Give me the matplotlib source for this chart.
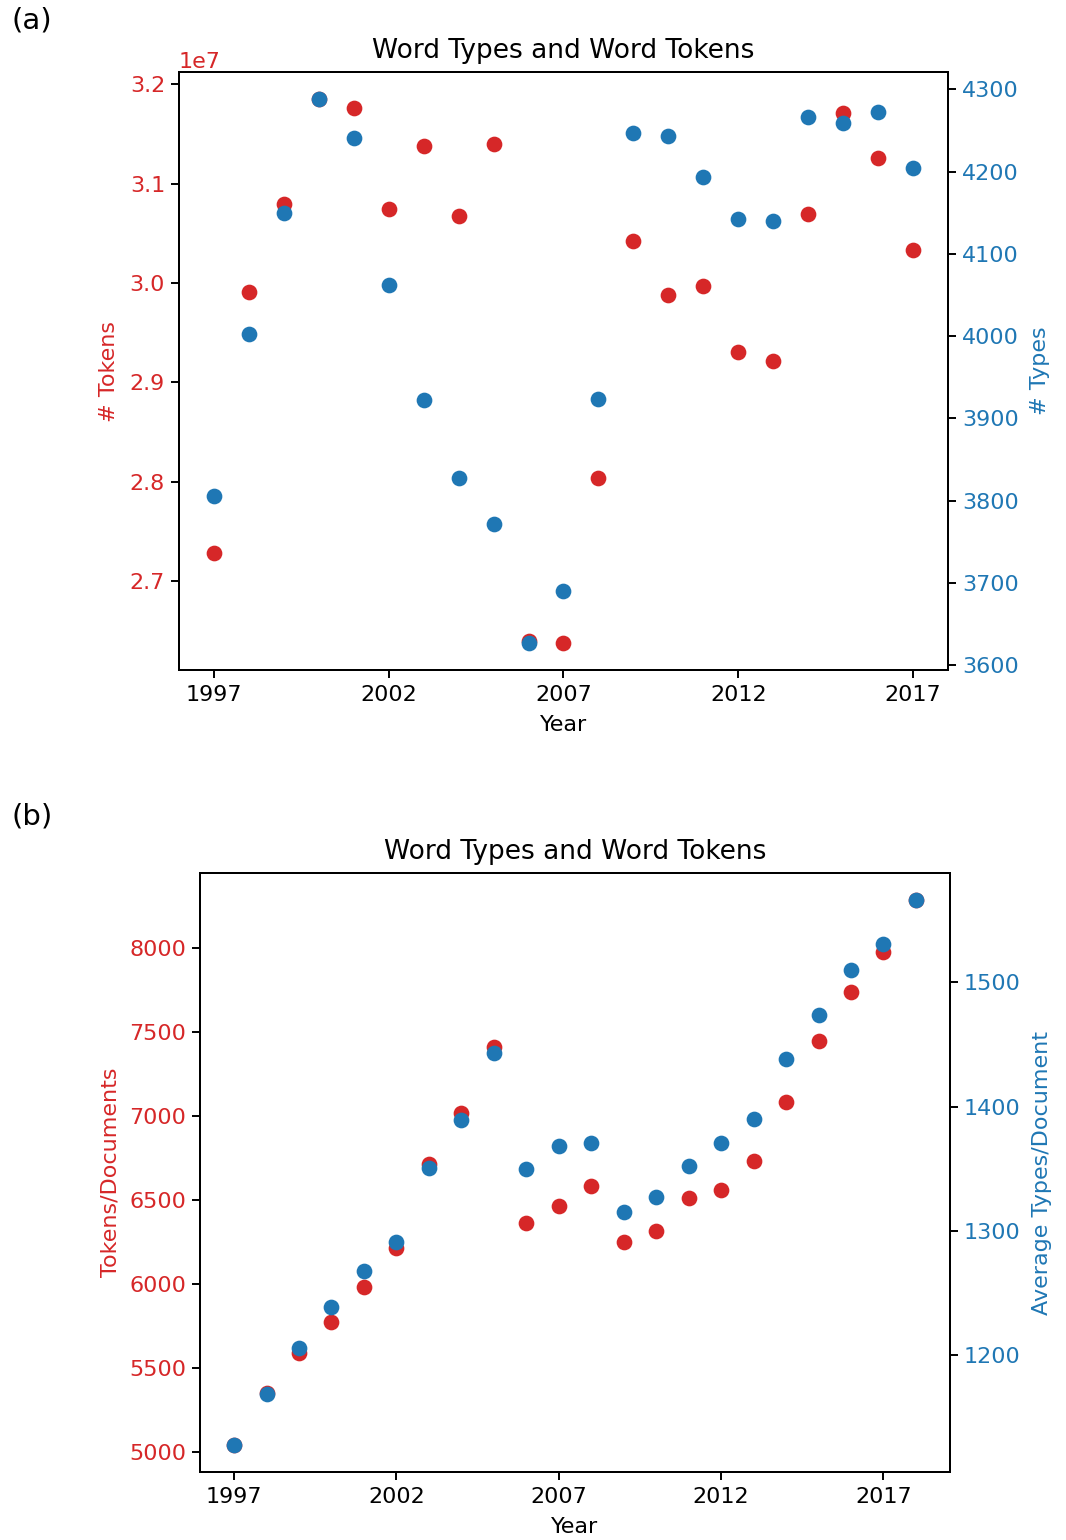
import matplotlib
matplotlib.use("Agg")
import matplotlib.pyplot as plt
import numpy as np

RED = "#d62728"
BLUE = "#1f77b4"

years_a = list(range(1997, 2018))
tokens_a = [2.728e7, 2.991e7, 3.080e7, 3.185e7, 3.176e7, 3.075e7, 3.138e7, 3.068e7,
            3.140e7, 2.640e7, 2.638e7, 2.804e7, 3.042e7, 2.988e7, 2.997e7, 2.931e7,
            2.922e7, 3.070e7, 3.171e7, 3.126e7, 3.033e7]
types_a = [3806, 4003, 4150, 4288, 4241, 4062, 3922, 3827, 3771, 3627, 3690, 3924,
           4247, 4243, 4193, 4142, 4140, 4266, 4259, 4272, 4204]

years_b = list(range(1997, 2019))
tokens_b = [5043, 5351, 5589, 5774, 5982, 6214, 6714, 7018, 7411, 6363, 6464, 6583,
            6250, 6315, 6512, 6560, 6732, 7083, 7446, 7738, 7976, 8284]
types_b = [1128, 1169, 1206, 1239, 1268, 1291, 1351, 1389, 1443, 1350, 1368, 1371,
           1315, 1327, 1352, 1371, 1390, 1438, 1474, 1510, 1531, 1566]

xticks = [1997, 2002, 2007, 2012, 2017]
title = "Word Types and Word Tokens"

FS = 16
TFS = 19
LP = 8
plt.rcParams['font.family'] = ['DejaVu Sans']
plt.rcParams['font.size'] = FS
plt.rcParams['axes.linewidth'] = 1.4
plt.rcParams['xtick.major.width'] = 1.4
plt.rcParams['ytick.major.width'] = 1.4
plt.rcParams['xtick.major.size'] = 5.5
plt.rcParams['ytick.major.size'] = 5.5
plt.rcParams['xtick.major.pad'] = 5.5
plt.rcParams['ytick.major.pad'] = 4.5

fig = plt.figure(figsize=(10.66, 15.4), dpi=100)
S = 128

# Panel (a)
ax1 = fig.add_axes([0.1679, 0.5649, 0.8893 - 0.1679, 0.9532 - 0.5649])
ax1.scatter(years_a, tokens_a, s=S, color=RED, zorder=2, linewidths=0)
ax1.set_ylabel("# Tokens", color=RED, fontsize=FS, labelpad=LP)
ax1.tick_params(axis='y', labelcolor=RED, labelsize=FS)
ax1.tick_params(axis='x', labelsize=FS)
ax1.yaxis.get_offset_text().set_color(RED)
ax1.yaxis.get_offset_text().set_fontsize(FS)
ax1.set_xticks(xticks)
ax1.set_xlabel("Year", fontsize=FS, labelpad=LP - 1)
ax1.set_title(title, fontsize=TFS, pad=10)
ax2 = ax1.twinx()
ax2.scatter(years_a, types_a, s=S, color=BLUE, zorder=2, linewidths=0)
ax2.set_ylabel("# Types", color=BLUE, fontsize=FS, labelpad=LP)
ax2.tick_params(axis='y', labelcolor=BLUE, labelsize=FS)
ax2.set_yticks([3600, 3700, 3800, 3900, 4000, 4100, 4200, 4300])

# Panel (b)
ax3 = fig.add_axes([0.1876, 0.04416, 0.8912 - 0.1876, 0.4331 - 0.04416])
ax3.scatter(years_b, tokens_b, s=S, color=RED, zorder=2, linewidths=0)
ax3.set_ylabel("Tokens/Documents", color=RED, fontsize=FS, labelpad=LP - 2)
ax3.tick_params(axis='y', labelcolor=RED, labelsize=FS)
ax3.tick_params(axis='x', labelsize=FS)
ax3.set_xticks(xticks)
ax3.set_xlabel("Year", fontsize=FS, labelpad=LP - 1)
ax3.set_title(title, fontsize=TFS, pad=10)
ax4 = ax3.twinx()
ax4.scatter(years_b, types_b, s=S, color=BLUE, zorder=2, linewidths=0)
ax4.set_ylabel("Average Types/Document", color=BLUE, fontsize=FS, labelpad=LP)
ax4.tick_params(axis='y', labelcolor=BLUE, labelsize=FS)

fig.text(0.011, 0.987, "(a)", fontsize=21, va='center', ha='left')
fig.text(0.011, 0.4695, "(b)", fontsize=21, va='center', ha='left')

fig.savefig("out.png", dpi=100)
